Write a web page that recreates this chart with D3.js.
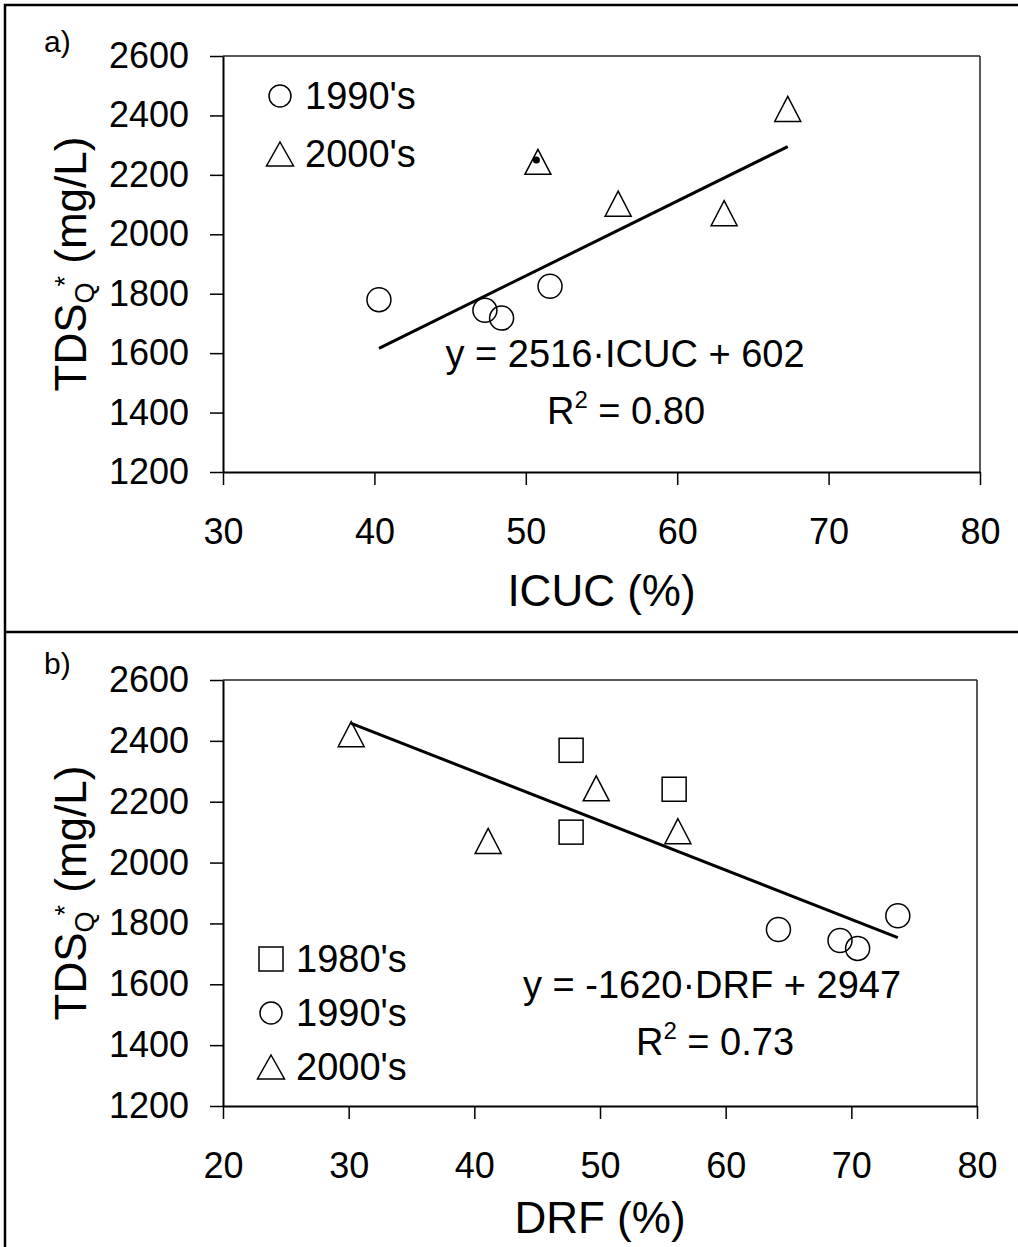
<!DOCTYPE html>
<html>
<head>
<meta charset="utf-8">
<script src="https://cdn.jsdelivr.net/npm/d3@7"></script>
<style>
  html, body { margin: 0; padding: 0; background: #fff; }
  svg { display: block; }
  text { font-family: "Liberation Sans", Arial, sans-serif; fill: #000; }
</style>
</head>
<body>
<svg id="chart" width="1018" height="1247"></svg>
<script>
// ---------- data ----------
const yTicks = [1200, 1400, 1600, 1800, 2000, 2200, 2400, 2600];
const xTicksA = [30, 40, 50, 60, 70, 80];
const xTicksB = [20, 30, 40, 50, 60, 70, 80];

// TDS values (mg/L) by decade
const tds1980 = [2369, 2241, 2100];
const tds1990 = [1780, 1744, 1718, 1825];
const tds2000 = [2244, 2103, 2071, 2422];

// panel a: ICUC (%)
const icuc1990 = [40.3, 47.3, 48.4, 51.6];
const icuc2000 = [50.8, 56.1, 63.1, 67.3];
const icucDot = [50.7];
const tdsDot = [2250];

// panel b: DRF (%)
const drf1980 = [47.7, 55.9, 47.7];
const drf1990 = [64.2, 69.1, 70.5, 73.7];
const drf2000 = [49.7, 56.2, 41.1, 30.2];

// regression fits (slope per %, intercept)
const fitA = [25.16, 602];
const fitB = [-16.20, 2947];

const labelsA = ["1990's", "2000's"];
const labelsB = ["1980's", "1990's", "2000's"];

// ---------- drawing ----------
const svg = d3.select("#chart");
const FONT = "'Liberation Sans', Arial, sans-serif";

// outer frame and separator
svg.append("rect").attr("x", 5).attr("y", 5).attr("width", 1030).attr("height", 1260)
  .attr("fill", "none").attr("stroke", "#000").attr("stroke-width", 2.5);
svg.append("line").attr("x1", 5).attr("x2", 1018).attr("y1", 632).attr("y2", 632)
  .attr("stroke", "#000").attr("stroke-width", 2.5);

function triPath(w, h) {
  return `M0,${-h/2}L${w/2},${h/2}L${-w/2},${h/2}Z`;
}

function panel(cfg) {
  const x = d3.scaleLinear().domain(cfg.xDomain).range(cfg.xRange);
  const y = d3.scaleLinear().domain([1200, 2600]).range(cfg.yRange);
  const g = svg.append("g");

  // top & right frame
  g.append("line").attr("x1", x.range()[0]).attr("x2", x.range()[1])
    .attr("y1", y(2600)).attr("y2", y(2600)).attr("stroke", "#222").attr("stroke-width", 1.5);
  g.append("line").attr("x1", x.range()[1]).attr("x2", x.range()[1])
    .attr("y1", y(2600)).attr("y2", y(1200)).attr("stroke", "#222").attr("stroke-width", 1.5);

  // axes
  const ax = g.append("g").attr("transform", `translate(0,${y(1200)})`)
    .call(d3.axisBottom(x).tickValues(cfg.xTicks).tickSizeOuter(0).tickSizeInner(13).tickPadding(33).tickFormat(d3.format("d")));
  const ay = g.append("g").attr("transform", `translate(${x.range()[0]},0)`)
    .call(d3.axisLeft(y).tickValues(yTicks).tickSizeOuter(0).tickSizeInner(13).tickPadding(21).tickFormat(d3.format("d")));
  [ax, ay].forEach(a => {
    a.select(".domain").attr("stroke", "#000").attr("stroke-width", 2);
    a.selectAll(".tick line").attr("stroke", "#000").attr("stroke-width", 1.5);
    a.selectAll("text").attr("font-family", FONT).attr("fill", "#000");
  });
  ax.selectAll("text").attr("font-size", 36);
  ay.selectAll("text").attr("font-size", 36);

  // axis titles
  g.append("text").attr("x", (x.range()[0] + x.range()[1]) / 2).attr("y", cfg.xTitleY)
    .attr("text-anchor", "middle").attr("font-size", 44).text(cfg.xTitle);
  const yl = g.append("text").attr("text-anchor", "middle").attr("font-size", 44)
    .attr("transform", `translate(86,${(y(1200) + y(2600)) / 2}) rotate(-90)`);
  yl.append("tspan").text("TDS");
  yl.append("tspan").attr("font-size", 27).attr("dy", 8).text("Q");
  yl.append("tspan").attr("font-size", 27).attr("dy", -20).attr("dx", -4).text("*");
  yl.append("tspan").attr("dy", 12).text(" (mg/L)");

  // panel label
  g.append("text").attr("x", 44).attr("y", cfg.labelY).attr("font-size", 30).text(cfg.label);

  // regression line
  const xs = cfg.series.flatMap(s => s.x);
  const x0 = d3.min(xs), x1 = d3.max(xs);
  g.append("line")
    .attr("x1", x(x0)).attr("y1", y(cfg.fit[0] * x0 + cfg.fit[1]))
    .attr("x2", x(x1)).attr("y2", y(cfg.fit[0] * x1 + cfg.fit[1]))
    .attr("stroke", "#000").attr("stroke-width", 3);

  // markers
  cfg.series.forEach(s => {
    const pts = s.x.map((v, i) => [v, s.y[i]]);
    const sel = g.selectAll(null).data(pts).enter();
    if (s.shape === "circle") {
      sel.append("circle").attr("cx", d => x(d[0])).attr("cy", d => y(d[1])).attr("r", 12)
        .attr("fill", "none").attr("stroke", "#000").attr("stroke-width", 1.5);
    } else if (s.shape === "square") {
      sel.append("rect").attr("x", d => x(d[0]) - 12).attr("y", d => y(d[1]) - 12)
        .attr("width", 24).attr("height", 24)
        .attr("fill", "none").attr("stroke", "#000").attr("stroke-width", 1.5);
    } else {
      sel.append("path").attr("d", triPath(26, 25))
        .attr("transform", d => `translate(${x(d[0])},${y(d[1])})`)
        .attr("fill", "none").attr("stroke", "#000").attr("stroke-width", 1.5);
    }
  });
  if (cfg.dot) {
    g.selectAll(null).data(cfg.dot.x.map((v, i) => [v, cfg.dot.y[i]])).enter()
      .append("circle").attr("cx", d => x(d[0])).attr("cy", d => y(d[1])).attr("r", 3.5).attr("fill", "#000");
  }

  // legend
  cfg.legend.forEach((L, i) => {
    const cy = cfg.legendY + i * cfg.legendStep;
    const lx = cfg.legendX;
    if (L.shape === "circle") {
      g.append("circle").attr("cx", lx).attr("cy", cy).attr("r", 11)
        .attr("fill", "none").attr("stroke", "#000").attr("stroke-width", 1.5);
    } else if (L.shape === "square") {
      g.append("rect").attr("x", lx - 12).attr("y", cy - 12).attr("width", 24).attr("height", 24)
        .attr("fill", "none").attr("stroke", "#000").attr("stroke-width", 1.5);
    } else {
      g.append("path").attr("d", triPath(27, 24)).attr("transform", `translate(${lx},${cy})`)
        .attr("fill", "none").attr("stroke", "#000").attr("stroke-width", 1.5);
    }
    g.append("text").attr("x", lx + 25).attr("y", cy + 13).attr("font-size", 38).text(L.text);
  });

  // equation
  g.append("text").attr("x", cfg.eqX).attr("y", cfg.eqY).attr("text-anchor", "middle")
    .attr("font-size", 38).text(cfg.eq);
  const r2 = g.append("text").attr("x", cfg.eqX + cfg.r2dx).attr("y", cfg.eqY + 57).attr("text-anchor", "middle")
    .attr("font-size", 38);
  r2.append("tspan").text("R");
  r2.append("tspan").attr("font-size", 24).attr("dy", -16).text("2");
  r2.append("tspan").attr("dy", 16).text(" = " + cfg.r2);
}

panel({
  xDomain: [30, 80], xRange: [223, 980], yRange: [472, 56], xTicks: xTicksA,
  xTitle: "ICUC (%)", xTitleY: 606, label: "a)", labelY: 52,
  series: [
    { shape: "circle", x: icuc1990, y: tds1990 },
    { shape: "triangle", x: icuc2000, y: tds2000 }
  ],
  dot: { x: icucDot, y: tdsDot },
  fit: fitA,
  legend: [{ shape: "circle", text: labelsA[0] }, { shape: "triangle", text: labelsA[1] }],
  legendX: 280, legendY: 96, legendStep: 58,
  eq: "y = 2516\u00B7ICUC + 602", eqX: 625, eqY: 367, r2: "0.80", r2dx: 1
});

panel({
  xDomain: [20, 80], xRange: [223, 977], yRange: [1106, 680], xTicks: xTicksB,
  xTitle: "DRF (%)", xTitleY: 1233, label: "b)", labelY: 674,
  series: [
    { shape: "square", x: drf1980, y: tds1980 },
    { shape: "circle", x: drf1990, y: tds1990 },
    { shape: "triangle", x: drf2000, y: tds2000 }
  ],
  fit: fitB,
  legend: [{ shape: "square", text: labelsB[0] }, { shape: "circle", text: labelsB[1] }, { shape: "triangle", text: labelsB[2] }],
  legendX: 271, legendY: 959, legendStep: 54,
  eq: "y = -1620\u00B7DRF + 2947", eqX: 712, eqY: 998, r2: "0.73", r2dx: 3
});
</script>
</body>
</html>
